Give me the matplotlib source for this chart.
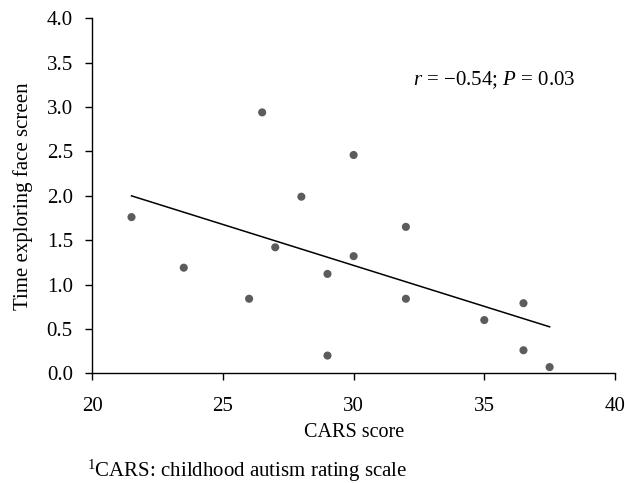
#!/usr/bin/env python3
import matplotlib
matplotlib.use('Agg')
import matplotlib.pyplot as plt
import numpy as np

cars_score = [21.5, 23.5, 26.0, 26.5, 27.0, 28.0, 29.0, 29.0,
              30.0, 30.0, 32.0, 32.0, 35.0, 36.5, 36.5, 37.5]
face_time = [1.76, 1.19, 0.84, 2.94, 1.42, 1.99, 1.12, 0.20,
             2.46, 1.32, 1.65, 0.84, 0.60, 0.79, 0.26, 0.07]

x_ticks = [20, 25, 30, 35, 40]
y_ticks = [0.0, 0.5, 1.0, 1.5, 2.0, 2.5, 3.0, 3.5, 4.0]

plt.rcParams['font.family'] = ['Liberation Serif', 'DejaVu Serif']
plt.rcParams['mathtext.fontset'] = 'custom'
plt.rcParams['mathtext.rm'] = 'Liberation Serif'
plt.rcParams['mathtext.it'] = 'Liberation Serif:italic'

fig = plt.figure(figsize=(6.25, 4.83), dpi=100)
ax = fig.add_axes([0.1477, 0.2271, 0.8362, 0.735])

ax.scatter(cars_score, face_time, s=34, color='#5c5c5c', zorder=3,
           edgecolors='none')

# linear fit
slope, intercept = np.polyfit(cars_score, face_time, 1)
x_fit = np.array([min(cars_score), max(cars_score)])
ax.plot(x_fit, slope * x_fit + intercept, color='black', linewidth=1.1)

ax.text(32.27, 3.25, r'$r$ = −0.54; $P$ = 0.03', fontsize=15)

ax.set_xlim(20, 40)
ax.set_ylim(0, 4)
ax.set_xticks(x_ticks)
ax.set_yticks(y_ticks)
ax.set_yticklabels([f'{v:.1f}' for v in y_ticks])
ax.tick_params(direction='out', length=5, width=1, labelsize=15)
ax.tick_params(axis='y', pad=9)
ax.tick_params(axis='x', pad=12)
ax.spines['top'].set_visible(False)
ax.spines['right'].set_visible(False)
ax.spines['left'].set_linewidth(1)
ax.spines['bottom'].set_linewidth(1)

ax.set_xlabel('CARS score', fontsize=14.5, labelpad=5)
ax.set_ylabel('Time exploring face screen', fontsize=15, labelpad=10)

fig.text(0.139, 0.013, r'$^{1}$CARS: childhood autism rating scale',
         fontsize=15)

plt.savefig('out.png', dpi=100)
